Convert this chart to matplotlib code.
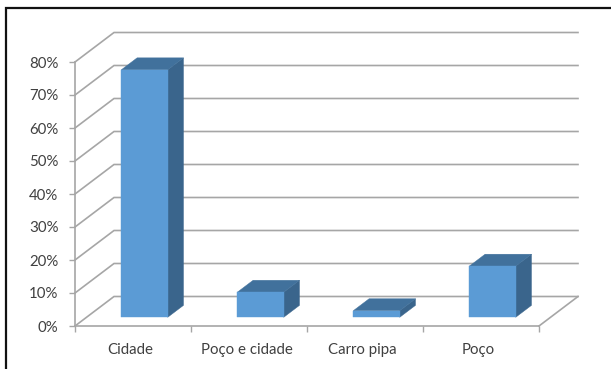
import matplotlib
matplotlib.use("Agg")
import matplotlib.pyplot as plt
from matplotlib.lines import Line2D
from matplotlib.patches import Polygon
from matplotlib.ticker import FuncFormatter

plt.rcParams["font.family"] = "Lato"

categories = ["Cidade", "Poço e cidade", "Carro pipa", "Poço"]
values = [75, 7.6, 2, 15.5]
y_ticks = [0, 10, 20, 30, 40, 50, 60, 70, 80]

W, H = 611, 369
# oblique offset of the back wall, in data units
DEPTH_X = 39 / 116
DEPTH_Y = 29.5 / 3.3
BAR_WIDTH = 0.4
BAR_FRONT = 0.295
BAR_BACK = 0.7

GRID = "#a6a6a6"
FRONT = "#5b9bd5"
TOP = "#41719c"
SIDE = "#3a658c"
TEXT = "#404040"
FONT_SIZE = 10.8


def project(x, y, depth):
    return x + depth * DEPTH_X, y + depth * DEPTH_Y


def face(corners):
    return [project(*c) for c in corners]


fig = plt.figure(figsize=(W / 100, H / 100), dpi=100)

# outer border, only the left and top edges are there
fig.add_artist(Line2D([6 / W, 6 / W, 1], [0, 1 - 8 / H, 1 - 8 / H], color="#111111", lw=1.6,
                      solid_joinstyle="miter"))

ax = fig.add_axes([75 / W, 1 - 326 / H, 464 / W, 264 / H])
ax.set_xlim(0, len(categories))
ax.set_ylim(0, 80)
ax.patch.set_visible(False)
for side in ["top", "right"]:
    ax.spines[side].set_visible(False)
for side in ["left", "bottom"]:
    ax.spines[side].set_color(GRID)
    ax.spines[side].set_linewidth(1.2)

ax.set_yticks(y_ticks)
ax.yaxis.set_major_formatter(FuncFormatter(lambda v, _: f"{v:.0f}%"))
ax.set_xticks(range(len(categories) + 1))
ax.set_xticklabels([])
ax.tick_params(axis="both", color=GRID, width=1.0, length=4, labelsize=FONT_SIZE, labelcolor=TEXT)
ax.tick_params(axis="y", pad=8)

# back wall gridlines and the slanted lines on the side wall
for t in y_ticks:
    x0, y0 = project(0, t, 0)
    x1, y1 = project(0, t, 1)
    x2, y2 = project(len(categories), t, 1)
    ax.plot([x0, x1, x2], [y0, y1, y2], color=GRID, lw=1.2, clip_on=False, zorder=1,
            solid_joinstyle="miter")

# right edge of the floor
x0, y0 = project(len(categories), 0, 0)
x1, y1 = project(len(categories), 0, 1)
ax.plot([x0, x1], [y0, y1], color=GRID, lw=1.2, clip_on=False, zorder=1)

for i, (name, v) in enumerate(zip(categories, values)):
    left = i + 0.5 - BAR_WIDTH / 2
    right = i + 0.5 + BAR_WIDTH / 2
    front_face = face([(left, 0, BAR_FRONT), (right, 0, BAR_FRONT), (right, v, BAR_FRONT), (left, v, BAR_FRONT)])
    top_face = face([(left, v, BAR_FRONT), (right, v, BAR_FRONT), (right, v, BAR_BACK), (left, v, BAR_BACK)])
    side_face = face([(right, 0, BAR_FRONT), (right, 0, BAR_BACK), (right, v, BAR_BACK), (right, v, BAR_FRONT)])
    ax.add_patch(Polygon(side_face, facecolor=SIDE, edgecolor=SIDE, lw=0.3, clip_on=False, zorder=3))
    ax.add_patch(Polygon(top_face, facecolor=TOP, edgecolor=TOP, lw=0.3, clip_on=False, zorder=3))
    ax.add_patch(Polygon(front_face, facecolor=FRONT, edgecolor=FRONT, lw=0.3, clip_on=False, zorder=4))
    ax.annotate(name, (i + 0.5, 0), xytext=(-2.5, -24), textcoords="offset pixels", ha="center", va="center",
                fontsize=FONT_SIZE, color=TEXT, annotation_clip=False)

fig.savefig("out.png", dpi=100)
